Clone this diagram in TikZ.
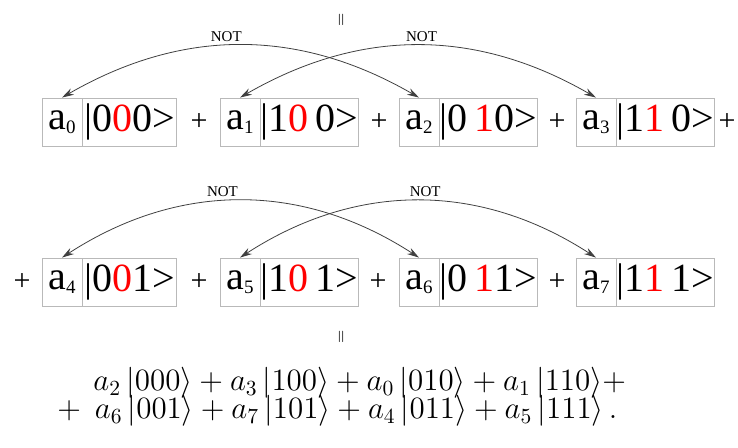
\documentclass[tikz,border=0pt]{standalone}
\usepackage{fontspec}
\setmainfont{Liberation Serif}
\usepackage{xcolor}
\usetikzlibrary{arrows.meta, positioning}

\newcommand{\ampl}[1]{a\raisebox{-2pt}{\fontsize{9.5}{9.5}\selectfont #1}}
\newcommand{\flip}[1]{\textcolor{red}{#1}}

\begin{document}
\begin{tikzpicture}[
    x=0.5pt, y=-0.5pt,
    coef/.style={draw=gray!55, minimum width=20pt, minimum height=24pt,
                 inner sep=0pt, font=\fontsize{20}{20}\selectfont},
    ket/.style={coef, minimum width=47pt},
    plus/.style={font=\fontsize{15}{15}\selectfont},
    swap/.style={<->, >={Stealth[length=6pt, width=3.5pt]}, draw=black!75, thin},
    gate/.style={font=\fontsize{7.5}{7.5}\selectfont, above, inner sep=2pt},
    eqs/.style={rotate=90, font=\fontsize{8}{8}\selectfont},
    sum/.style={anchor=west, inner sep=0pt, font=\fontsize{14.4}{14.4}\selectfont},
]
\useasboundingbox (0,0) rectangle (738,448);
\node[eqs] (eqtop) at (342,20) {$=$};
% first row
\node[coef] (a0) at (62,122) {\ampl{0}};
\node[ket, right=0pt of a0] (k0) {|0\flip{0}0>};
\node[plus] (p1) at (199,122) {+};
\node[coef] (a1) at (240,122) {\ampl{1}};
\node[ket, right=0pt of a1] (k1) {|1\flip{0}\,0>};
\node[plus] (p2) at (379,122) {+};
\node[coef] (a2) at (419,122) {\ampl{2}};
\node[ket, right=0pt of a2] (k2) {|0\,\flip{1}0>};
\node[plus] (p3) at (557,122) {+};
\node[coef] (a3) at (596,122) {\ampl{3}};
\node[ket, right=0pt of a3] (k3) {|1\flip{1}\,0>};
\node[plus] (p4) at (727,122) {+};
\draw[swap] (a0.north) to[bend left=30] node[gate, pos=0.46] {NOT} (a2.north);
\draw[swap] (a1.north) to[bend left=30] node[gate, pos=0.51] {NOT} (a3.north);
% second row
\node[plus] (p5) at (22,282) {+};
\node[coef] (a4) at (62,282) {\ampl{4}};
\node[ket, right=0pt of a4] (k4) {|0\flip{0}1>};
\node[plus] (p6) at (199,282) {+};
\node[coef] (a5) at (240,282) {\ampl{5}};
\node[ket, right=0pt of a5] (k5) {|1\flip{0}\,1>};
\node[plus] (p7) at (378,282) {+};
\node[coef] (a6) at (419,282) {\ampl{6}};
\node[ket, right=0pt of a6] (k6) {|0\,\flip{1}1>};
\node[plus] (p8) at (557,282) {+};
\node[coef] (a7) at (596,282) {\ampl{7}};
\node[ket, right=0pt of a7] (k7) {|1\flip{1}\,1>};
\draw[swap] (a4.north) to[bend left=33] node[gate, pos=0.45] {NOT} (a6.north);
\draw[swap] (a5.north) to[bend left=33] node[gate, pos=0.52] {NOT} (a7.north);
\node[eqs] (eqbot) at (342,337) {$=$};
% result
\node[sum] (sum1) at (93,383) {\scalebox{1.077}{%
   $a_2\,|000\rangle + a_3\,|100\rangle + a_0\,|010\rangle + a_1\,|110\rangle +$}};
\node[sum] (sum2) at (57,411) {\scalebox{1.077}{%
   $+\;\, a_6\,|001\rangle + a_7\,|101\rangle + a_4\,|011\rangle + a_5\,|111\rangle\,.$}};
\end{tikzpicture}
\end{document}
